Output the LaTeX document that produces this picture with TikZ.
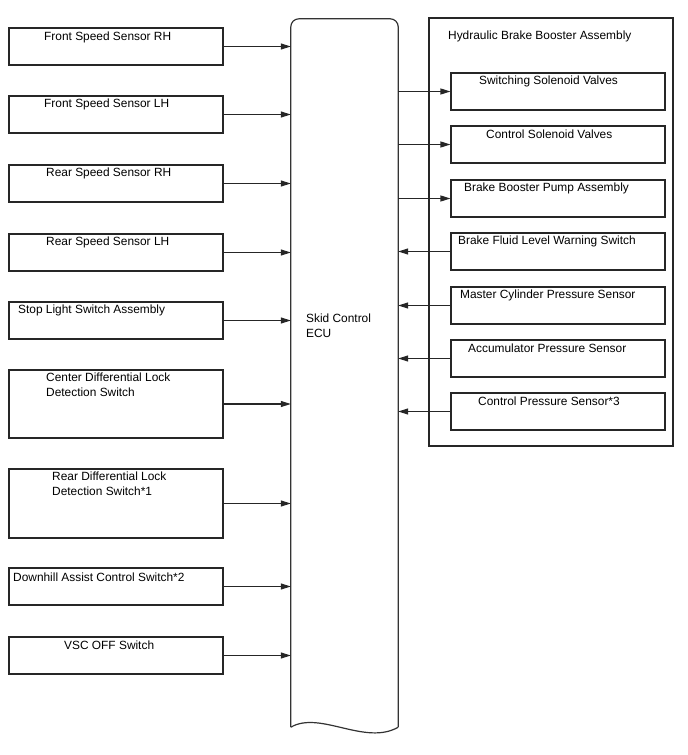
\documentclass[tikz,border=0pt]{standalone}
\usepackage{fontspec}
\setmainfont{Liberation Sans}
\usetikzlibrary{arrows.meta}
\begin{document}
\begin{tikzpicture}[x=1pt,y=-1pt,
  box/.style={draw=black!85,line width=1.1pt,minimum width=214pt,inner sep=0pt},
  rbox/.style={draw=black!85,line width=1.1pt,minimum width=214pt,minimum height=37pt,inner sep=0pt},
  txt/.style={anchor=west,inner sep=0pt,font=\fontsize{11.9}{15}\selectfont,align=left},
  arr/.style={draw=black!85,line width=1.1pt,-{Triangle[length=10pt,width=6pt]}},
  eculine/.style={draw=black!80,line width=1.2pt}]
\useasboundingbox (0,0) rectangle (688,755);
% Left boxes
\node[box,minimum height=37pt] (L1) at (116,46.5) {};
\node[box,minimum height=37pt] (L2) at (116,114.5) {};
\node[box,minimum height=37pt] (L3) at (116,183.5) {};
\node[box,minimum height=37pt] (L4) at (116,252.5) {};
\node[box,minimum height=37pt] (L5) at (116,320.5) {};
\node[box,minimum height=68pt] (L6) at (116,404) {};
\node[box,minimum height=69pt] (L7) at (116,503.5) {};
\node[box,minimum height=37pt] (L8) at (116,586.5) {};
\node[box,minimum height=37pt] (L9) at (116,655.5) {};
\node[txt] (t1) at (44,37) {Front Speed Sensor RH};
\node[txt] (t2) at (44,104) {Front Speed Sensor LH};
\node[txt] (t3) at (46,173) {Rear Speed Sensor RH};
\node[txt] (t4) at (46,242) {Rear Speed Sensor LH};
\node[txt] (t5) at (18,310) {Stop Light Switch Assembly};
\node[txt] (t6) at (46,385) {Center Differential Lock\\Detection Switch};
\node[txt] (t7) at (52,484) {Rear Differential Lock\\Detection Switch*1};
\node[txt] (t8) at (13,577) {Downhill Assist Control Switch*2};
\node[txt] (t9) at (64,645) {VSC OFF Switch};
% ECU
\node[minimum width=107pt,minimum height=708pt,inner sep=0pt] (ecu) at (344.5,373) {};
\draw[eculine,rounded corners=8pt] (ecu.south west) -- (ecu.north west) -- (ecu.north east) -- (ecu.south east);
\draw[eculine] (ecu.south west) .. controls +(29,-17) and +(-33,19) .. (ecu.south east);
\node[txt] (ecut) at (306,326) {Skid Control\\ECU};
% Hydraulic assembly
\node[draw=black!85,line width=1.1pt,minimum width=244pt,minimum height=428pt,inner sep=0pt] (hba) at (551,232) {};
\node[txt] (hbat) at (448,36) {Hydraulic Brake Booster Assembly};
\node[rbox] (R1) at (558,91.5) {};
\node[rbox] (R2) at (558,144.5) {};
\node[rbox] (R3) at (558,198.5) {};
\node[rbox] (R4) at (558,251.5) {};
\node[rbox] (R5) at (558,305.5) {};
\node[rbox] (R6) at (558,358.5) {};
\node[rbox] (R7) at (558,411.5) {};
\node[txt] (r1) at (479,81) {Switching Solenoid Valves};
\node[txt] (r2) at (486,134) {Control Solenoid Valves};
\node[txt] (r3) at (464,188) {Brake Booster Pump Assembly};
\node[txt] (r4) at (458,241) {Brake Fluid Level Warning Switch};
\node[txt] (r5) at (460,295) {Master Cylinder Pressure Sensor};
\node[txt] (r6) at (468,348) {Accumulator Pressure Sensor};
\node[txt] (r7) at (478,401) {Control Pressure Sensor*3};
% Connectors left
\foreach \i in {1,...,9} {\draw[arr] (L\i.east) -- (L\i.east -| ecu.west);}
% Connectors right
\foreach \i in {1,2,3} {\draw[arr] (R\i.west -| ecu.east) -- (R\i.west);}
\foreach \i in {4,5,6,7} {\draw[arr] (R\i.west) -- (R\i.west -| ecu.east);}
\end{tikzpicture}
\end{document}
